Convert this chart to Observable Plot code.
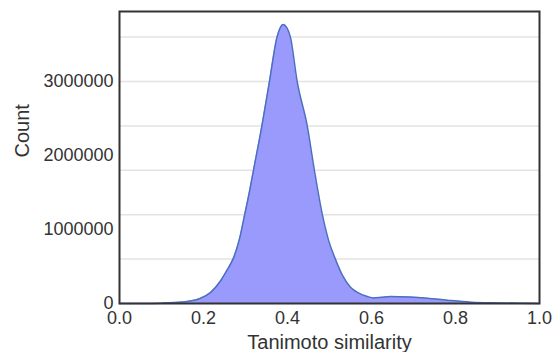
<!DOCTYPE html>
<html>
<head>
<meta charset="utf-8">
<script src="https://cdn.jsdelivr.net/npm/d3@7"></script>
<script src="https://cdn.jsdelivr.net/npm/@observablehq/plot@0.6"></script>
<style>
  html, body { margin: 0; padding: 0; background: #fff; }
  #chart svg { display: block; }
</style>
</head>
<body>
<div id="chart"></div>
<script>
// Tanimoto similarity (x) and count (y)
const similarity = [0, 0.05, 0.1, 0.15, 0.19, 0.217, 0.24, 0.256, 0.271, 0.286, 0.298, 0.309, 0.319, 0.339, 0.357, 0.375, 0.383, 0.39, 0.398, 0.407, 0.423, 0.447, 0.464, 0.483, 0.498, 0.514, 0.53, 0.55, 0.57, 0.59, 0.605, 0.625, 0.645, 0.69, 0.733, 0.78, 0.836, 0.9, 0.95, 1.0];
const counts = [0, 1000, 5000, 20000, 64000, 150000, 300000, 450000, 610000, 880000, 1200000, 1500000, 1800000, 2400000, 3000000, 3600000, 3730000, 3770000, 3730000, 3600000, 3000000, 2400000, 1800000, 1200000, 850000, 600000, 390000, 220000, 140000, 95000, 75000, 85000, 95000, 88000, 72000, 45000, 18000, 8000, 3000, 0];
const yTicks = [0, 1000000, 2000000, 3000000];
const xTicks = [0, 0.2, 0.4, 0.6, 0.8, 1.0];
const gridValues = [600000, 1200000, 1800000, 2400000, 3000000, 3600000];

const data = similarity.map((s, i) => ({s, c: counts[i]}));

const chart = Plot.plot({
  width: 553,
  height: 352,
  marginLeft: 119,
  marginRight: 14,
  marginTop: 11,
  marginBottom: 49,
  style: {fontFamily: "'Liberation Sans', Arial, sans-serif", fontSize: "18px", color: "#333", background: "#fff"},
  x: {domain: [0, 1]},
  y: {domain: [0, 3946000]},
  marks: [
    Plot.ruleY(gridValues, {stroke: "#e3e3e3", strokeWidth: 1.5}),
    Plot.areaY(data, {x: "s", y: "c", fill: "#9a9afc", curve: "monotone-x"}),
    Plot.lineY(data, {x: "s", y: "c", stroke: "#4c6fc0", strokeWidth: 1.5, curve: "monotone-x"}),
    Plot.axisX({ticks: xTicks, tickFormat: d3.format(".1f"), tickSize: 0, tickPadding: 8, fontSize: 18, label: null}),
    Plot.axisY({ticks: yTicks, tickFormat: d => String(d), tickSize: 0, tickPadding: 6, fontSize: 18, label: null}),
    Plot.text(["Tanimoto similarity"], {frameAnchor: "bottom", dy: 39, lineAnchor: "middle", fontSize: 20, fill: "#333"}),
    Plot.text(["Count"], {frameAnchor: "left", dx: -97, rotate: -90, lineAnchor: "middle", fontSize: 20, fill: "#333"}),
    Plot.frame({stroke: "#333", strokeWidth: 2})
  ]
});
document.getElementById("chart").appendChild(chart);
</script>
</body>
</html>
